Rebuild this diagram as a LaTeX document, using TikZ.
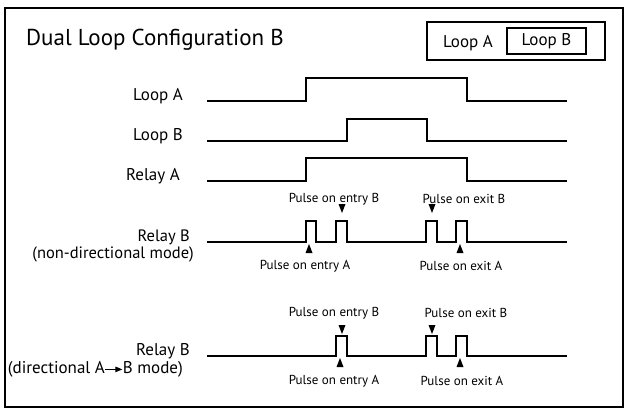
\documentclass[tikz,border=0pt]{standalone}
\usepackage{fontspec}
\setmainfont{PT Sans}
\usetikzlibrary{positioning,arrows.meta}
\newcommand{\dirarrow}{\tikz[baseline=-3.6pt, x=1pt, y=1pt]\draw[line width=1pt, -{Triangle[length=7pt, width=5.5pt]}] (0,0) -- (17,0);}
\begin{document}
\begin{tikzpicture}[x=1pt, y=-1pt,
    sig/.style={line width=1.8pt, line join=miter},
    lbl/.style={anchor=base east, inner sep=0pt, font=\fontsize{17}{19}\selectfont},
    pls/.style={inner sep=0pt, font=\fontsize{13}{15}\selectfont},
    upmark/.style={fill=black},
    dnmark/.style={fill=black}]
\useasboundingbox (0,0) rectangle (631,414);
\draw[line width=2pt] (5,8) rectangle (623,407);
\node[anchor=base west, inner sep=0pt, font=\fontsize{23}{26}\selectfont] (title) at (26,46) {Dual Loop Configuration B};

% legend
\draw[line width=1.8pt] (427,22) rectangle (605,60);
\node[draw, line width=1.8pt, minimum width=79pt, minimum height=26pt, inner sep=0pt, font=\fontsize{17}{19}\selectfont] (legB) at (546.5,41) {Loop B};
\node[anchor=base east, inner sep=0pt, font=\fontsize{17}{19}\selectfont] (legA) at (493,48) {Loop A};

% traces
\node[lbl] (loopA) at (183,101) {Loop A};
\draw[sig] (207,101) -- (306,101) -- (306,78) -- (467,78) -- (467,101) -- (567,101);

\node[lbl] (loopB) at (183,141) {Loop B};
\draw[sig] (207,141) -- (347,141) -- (347,119) -- (427,119) -- (427,141) -- (567,141);

\node[lbl] (relA) at (180,181) {Relay A};
\draw[sig] (207,181) -- (306,181) -- (306,158) -- (467,158) -- (467,181) -- (567,181);

% relay B, non-directional
\node[lbl, font=\fontsize{16.5}{19}\selectfont] (relB) at (190,241) {Relay B};
\node[lbl, font=\fontsize{16.5}{19}\selectfont] (nondir) at (194,258) {(non-directional mode)};
\draw[sig] (207,242)
  \foreach \a/\b in {306/316, 336/347, 426/437, 456/467}{
    -- (\a,242) -- (\a,221) -- (\b,221) -- (\b,242)
  } -- (567,242);
\foreach \x in {342, 432}
  \fill[dnmark] (\x-3.5,204) -- (\x+3.5,204) -- (\x,213) -- cycle;
\foreach \x in {309, 460}
  \fill[upmark] (\x-3.5,253) -- (\x+3.5,253) -- (\x,244) -- cycle;
\node[pls] (entB1) at (334,199) {Pulse on entry B};
\node[pls] (exB1) at (464,199) {Pulse on exit B};
\node[pls] (entA1) at (305,266) {Pulse on entry A};
\node[pls] (exA1) at (461,266) {Pulse on exit A};

% relay B, directional
\node[lbl] (relB2) at (190,355) {Relay B};
\node[lbl] (dir) at (183,373) {(directional A\dirarrow B mode)};
\draw[sig] (207,356)
  \foreach \a/\b in {336/347, 426/437, 456/467}{
    -- (\a,356) -- (\a,336) -- (\b,336) -- (\b,356)
  } -- (567,356);
\foreach \x in {342, 432}
  \fill[dnmark] (\x-3.5,325) -- (\x+3.5,325) -- (\x,334) -- cycle;
\foreach \x in {340, 460}
  \fill[upmark] (\x-3.5,367) -- (\x+3.5,367) -- (\x,358) -- cycle;
\node[pls] (entB2) at (334,313) {Pulse on entry B};
\node[pls] (exB2) at (466,313) {Pulse on exit B};
\node[pls] (entA2) at (334,381) {Pulse on entry A};
\node[pls] (exA2) at (462,381) {Pulse on exit A};
\end{tikzpicture}
\end{document}
